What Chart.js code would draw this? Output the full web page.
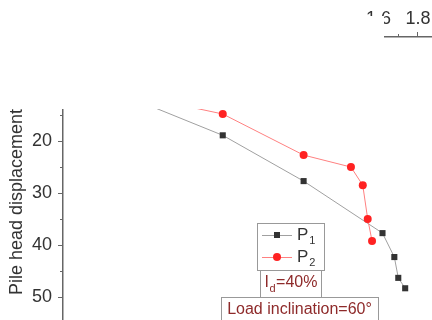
<!DOCTYPE html>
<html>
<head>
<meta charset="utf-8">
<script src="https://cdn.jsdelivr.net/npm/chart.js@4/dist/chart.umd.min.js"></script>
<style>
  html, body { margin: 0; padding: 0; background: #fff; overflow: hidden; }
  #wrap { position: relative; width: 432px; height: 320px; }
</style>
</head>
<body>
<div id="wrap"><canvas id="c" width="432" height="320"></canvas></div>
<script>
// load (x) and pile head displacement (y)
const loadP1 = [0, 0.4, 0.81, 1.22, 1.62, 1.68, 1.70, 1.735];
const dispP1 = [0, 12.6, 18.9, 27.7, 37.7, 42.3, 46.3, 48.3];
const loadP2 = [0, 0.4, 0.81, 1.22, 1.46, 1.52, 1.545, 1.567];
const dispP2 = [0, 11.5, 14.8, 22.7, 25.0, 28.5, 35.0, 39.2];

const seriesNames = ['P1', 'P2'];
const yTitle = 'Pile head displacement (mm)';
const noteId = '=40%';
const noteLoad = 'Load inclination=60°';

const FONT = '"Liberation Sans", Arial, sans-serif';
const TXT = '#333';
const AXIS = '#666';
const NOTE = '#8e2a2a';

const toPts = (xs, ys) => xs.map((x, i) => ({ x: x, y: ys[i] }));

// minor ticks, legend, the two note boxes and the white cover of the cropped top
const extras = {
  id: 'extras',
  afterDraw(chart) {
    const ctx = chart.ctx;
    const xs = chart.scales.x, ys = chart.scales.y;
    ctx.save();

    // minor ticks
    ctx.strokeStyle = AXIS;
    ctx.lineWidth = 1;
    for (let v = 5; v < ys.max; v += 10) {
      const py = Math.round(ys.getPixelForValue(v)) + 0.5;
      ctx.beginPath(); ctx.moveTo(ys.right - 3, py); ctx.lineTo(ys.right, py); ctx.stroke();
    }
    for (let v = 0.1; v < xs.max; v += 0.2) {
      const px = Math.round(xs.getPixelForValue(v)) + 0.5;
      ctx.beginPath(); ctx.moveTo(px, xs.bottom - 3); ctx.lineTo(px, xs.bottom); ctx.stroke();
    }

    // legend
    ctx.fillStyle = '#fff';
    ctx.fillRect(257, 223, 67, 47);
    ctx.strokeStyle = '#999';
    ctx.strokeRect(257.5, 223.5, 67, 47);
    const rows = [235, 257];
    chart.data.datasets.forEach((ds, i) => {
      const y = rows[i];
      ctx.strokeStyle = ds.borderColor;
      ctx.lineWidth = 1;
      ctx.beginPath(); ctx.moveTo(262, y + 0.5); ctx.lineTo(292, y + 0.5); ctx.stroke();
      ctx.fillStyle = ds.pointBackgroundColor;
      if (ds.pointStyle === 'rect') {
        ctx.fillRect(274, y - 3, 6, 6);
      } else {
        ctx.beginPath(); ctx.arc(277, y, 4, 0, Math.PI * 2); ctx.fill();
      }
      ctx.fillStyle = TXT;
      ctx.textBaseline = 'middle';
      ctx.textAlign = 'left';
      ctx.font = '17px ' + FONT;
      ctx.fillText(seriesNames[i][0], 297, y);
      const w = ctx.measureText(seriesNames[i][0]).width;
      ctx.font = '11px ' + FONT;
      ctx.fillText(seriesNames[i].slice(1), 297 + w + 1, y + 6);
    });

    // note boxes
    ctx.strokeStyle = '#999';
    ctx.lineWidth = 1;
    ctx.fillStyle = '#fff';
    ctx.fillRect(260, 270, 61, 27);
    ctx.strokeRect(260.5, 270.5, 61, 27);
    ctx.fillRect(221, 297, 157, 30);
    ctx.strokeRect(221.5, 297.5, 157, 30);

    ctx.fillStyle = NOTE;
    ctx.textBaseline = 'middle';
    ctx.textAlign = 'left';
    ctx.font = '16px ' + FONT;
    const wI = ctx.measureText('I').width;
    ctx.font = '11px ' + FONT;
    const wd = ctx.measureText('d').width;
    ctx.font = '16px ' + FONT;
    const wR = ctx.measureText(noteId).width;
    let x0 = 291 - (wI + wd + 1 + wR) / 2;
    ctx.fillText('I', x0, 283);
    ctx.font = '11px ' + FONT;
    ctx.fillText('d', x0 + wI + 0.5, 289);
    ctx.font = '16px ' + FONT;
    ctx.fillText(noteId, x0 + wI + wd + 1, 283);

    ctx.textAlign = 'center';
    ctx.fillText(noteLoad, 299.5, 310);

    // white cover over the cropped top part
    ctx.fillStyle = '#fff';
    ctx.fillRect(0, 0, 366, 109);
    ctx.fillRect(366, 16, 18, 93);
    ctx.fillRect(384, 41, 48, 68);

    ctx.restore();
  }
};

new Chart(document.getElementById('c'), {
  type: 'scatter',
  data: {
    datasets: [
      {
        label: seriesNames[0],
        data: toPts(loadP1, dispP1),
        showLine: true,
        borderColor: '#a0a0a0',
        borderWidth: 1,
        pointStyle: 'rect',
        pointRadius: 4.3,
        pointBackgroundColor: '#333',
        pointBorderColor: '#333',
        pointBorderWidth: 0,
        order: 2
      },
      {
        label: seriesNames[1],
        data: toPts(loadP2, dispP2),
        showLine: true,
        borderColor: '#ff8080',
        borderWidth: 1,
        pointStyle: 'circle',
        pointRadius: 4,
        pointBackgroundColor: '#f22',
        pointBorderColor: '#f22',
        pointBorderWidth: 0,
        order: 1
      }
    ]
  },
  options: {
    responsive: false,
    animation: false,
    layout: { padding: 0, autoPadding: false },
    plugins: { legend: { display: false }, tooltip: { enabled: false } },
    scales: {
      x: {
        type: 'linear',
        position: 'top',
        min: 0, max: 1.871,
        afterFit(scale) {
          scale.height = 37;
          scale.paddingLeft = 0; scale.paddingRight = 0;
        },
        border: { color: AXIS, width: 1.5 },
        grid: { drawOnChartArea: false, tickLength: 5, color: AXIS },
        ticks: {
          stepSize: 0.2, includeBounds: false, autoSkip: false, maxRotation: 0,
          padding: 2, color: TXT, font: { family: FONT, size: 18 },
          callback: v => Number(v).toFixed(1)
        }
      },
      y: {
        type: 'linear',
        reverse: true,
        min: 0, max: 54.4,
        afterFit(scale) {
          scale.width = 63;
          scale.paddingTop = 0; scale.paddingBottom = 0;
        },
        border: { color: AXIS, width: 1.5 },
        grid: { drawOnChartArea: false, tickLength: 5, color: AXIS },
        ticks: {
          stepSize: 10, includeBounds: false, padding: 6,
          color: TXT, font: { family: FONT, size: 18 }
        },
        title: {
          display: true, text: yTitle, color: TXT,
          font: { family: FONT, size: 18 },
          padding: { top: 6, bottom: 0 }
        }
      }
    }
  },
  plugins: [extras]
});
</script>
</body>
</html>
